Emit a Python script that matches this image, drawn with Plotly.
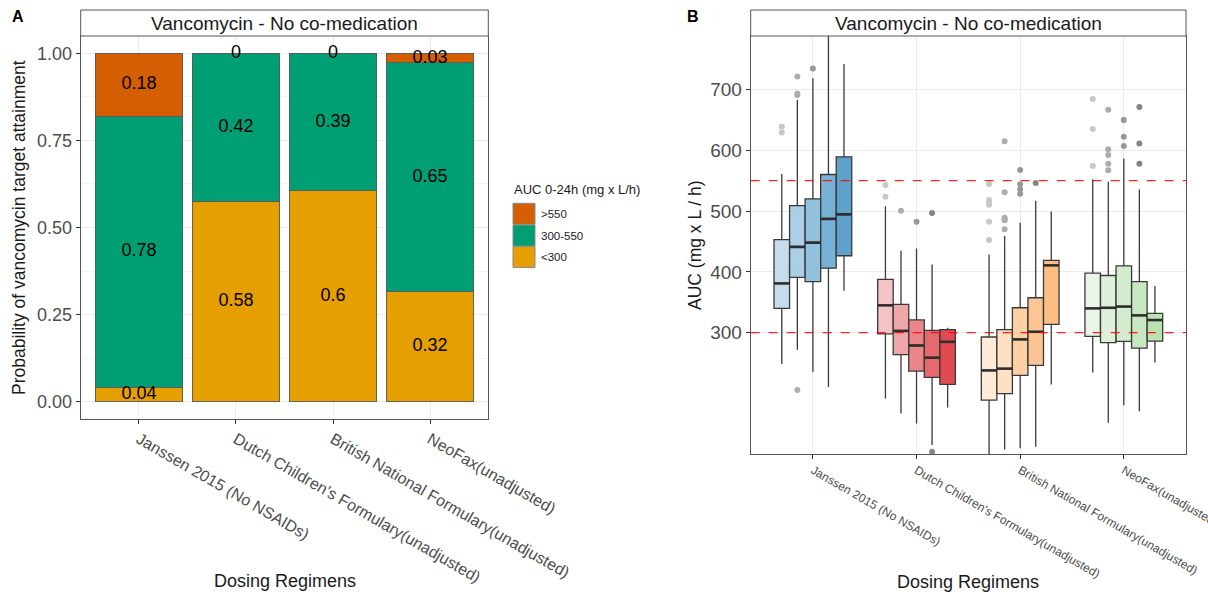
import plotly.graph_objects as go

# ---------------- data ----------------
regimens = ["Janssen 2015 (No NSAIDs)", "Dutch Children's Formulary(unadjusted)",
            "British National Formulary(unadjusted)", "NeoFax(unadjusted)"]

# Panel A: probability of target attainment (stacked)
auc_classes = ["<300", "300-550", ">550"]
pta_low = [0.04, 0.575, 0.605, 0.3175]
pta_mid = [0.78, 0.425, 0.395, 0.655]
pta_high = [0.18, 0.0, 0.0, 0.0275]
lab_low = ["0.04", "0.58", "0.6", "0.32"]
lab_mid = ["0.78", "0.42", "0.39", "0.65"]
lab_high = ["0.18", "0", "0", "0.03"]

# Panel B: AUC box statistics (5 dose levels per regimen)
q1 = [[340, 391, 384, 406, 426.5],
      [298, 264, 237, 226.6, 215],
      [189.3, 200, 230, 246.3, 313.7],
      [294, 283.6, 285.8, 274.8, 286.3]]
med = [[381, 441, 448, 487, 494.5],
       [345, 303, 279, 259, 285],
       [238, 241, 289, 301.6, 410.7],
       [340, 341, 343, 328.5, 320.8]]
q3 = [[453, 509, 520, 560, 589],
      [387.6, 346.6, 321, 304, 305],
      [293, 305, 341, 357.5, 419],
      [398, 394, 410, 383.8, 331.8]]
lofence = [[248.5, 272, 236, 211, 369],
           [192, 167.4, 151, 115.4, 177],
           [90, 108, 110, 112.7, 215],
           [234.8, 152, 181, 171, 251]]
hifence = [[561, 683, 718, 800, 741.5],
           [508, 434.8, 438.6, 412, 308],
           [428.7, 459, 480.8, 517, 499.4],
           [552, 548, 586.5, 535.5, 376.7]]
outliers = [[[638.5, 629], [721, 693, 690.5, 205.8], [734], [], []],
            [[542.7, 523.5], [500.5], [482.4], [496.7, 104.4], []],
            [[544.4, 518, 514.3, 510.4, 482.4, 452.3], [614.5, 530.7, 489, 486, 484.7, 470],
             [567.4, 544, 535.7, 528.4], [546], []],
            [[684, 634.7, 574], [666.5, 601.4, 592, 577.7, 566.8], [649.5, 622, 606.8],
             [671, 611, 577.7], []]]
thresholds = [300, 550]
auc_ticks = [300, 400, 500, 600, 700]

# ---------------- styles ----------------
W, H = 1208, 597
def px(x): return x / W
def py(y): return 1 - y / H

class_colors = {"<300": "#E69F00", "300-550": "#009E73", ">550": "#D55E00"}
box_colors = [['#c6dcec', '#abcfe6', '#92c2de', '#78b1d6', '#5ea2cb'],
              ['#f3c3c5', '#efa6a9', '#eb878a', '#e66a6e', '#e04c51'],
              ['#feead7', '#fee0c3', '#fdd1a4', '#fdc594', '#fdbe85'],
              ['#e9f5e7', '#def0da', '#d3ecce', '#c8e8c1', '#bae2b3']]
out_colors = ['#c8c8c8', '#adadad', '#989898', '#858585', '#747474']
ALPHA = 0.85

def rgba_under(hexc, a):
    r, g, b = (int(hexc[i:i + 2], 16) for i in (1, 3, 5))
    f = lambda c: max(0, min(255, round((c - (1 - a) * 255) / a)))
    return f"rgba({f(r)},{f(g)},{f(b)},{a})"

FONT = "Liberation Sans, Arial, sans-serif"
TICKC = "#4d4d4d"
GRID = "#ebebeb"
BORDER = "#555555"

fig = go.Figure()

# ---- Panel A bars ----
series = [(pta_low, "<300"), (pta_mid, "300-550"), (pta_high, ">550")]
for vals, name in series:
    fig.add_trace(go.Bar(x=regimens, y=vals, name=name, width=0.9,
                         marker=dict(color=class_colors[name], line=dict(color="#5a5a5a", width=0.9)),
                         xaxis="x", yaxis="y", showlegend=False, hoverinfo="skip"))

# labels at middle of each stacked segment
base = [0.0] * len(regimens)
for (vals, name), labs in zip(series, [lab_low, lab_mid, lab_high]):
    mids = [b + v / 2 for b, v in zip(base, vals)]
    fig.add_trace(go.Scatter(x=regimens, y=mids, text=labs, mode="text",
                             textfont=dict(family=FONT, size=18, color="black"),
                             xaxis="x", yaxis="y", showlegend=False, cliponaxis=False, hoverinfo="skip"))
    base = [b + v for b, v in zip(base, vals)]

# ---- Panel B boxes ----
BW = 0.15
for i in range(len(regimens)):
    for j in range(5):
        xpos = i + 1 + (j - 2) * BW
        fig.add_trace(go.Box(x=[xpos], q1=[q1[i][j]], median=[med[i][j]], q3=[q3[i][j]],
                             lowerfence=[lofence[i][j]], upperfence=[hifence[i][j]],
                             width=BW, whiskerwidth=0,
                             fillcolor=rgba_under(box_colors[i][j], ALPHA),
                             line=dict(color="#3a3a3a", width=1.3),
                             xaxis="x2", yaxis="y2", showlegend=False, hoverinfo="skip"))
        # thicker median bar (ggplot fatten)
        fig.add_trace(go.Scatter(x=[xpos - BW / 2, xpos + BW / 2], y=[med[i][j], med[i][j]],
                                 mode="lines", line=dict(color="#2e2e2e", width=2.6),
                                 xaxis="x2", yaxis="y2", showlegend=False, hoverinfo="skip"))
        if outliers[i][j]:
            fig.add_trace(go.Scatter(x=[xpos] * len(outliers[i][j]), y=outliers[i][j], mode="markers",
                                     marker=dict(color=out_colors[j], size=6),
                                     xaxis="x2", yaxis="y2", showlegend=False, hoverinfo="skip"))

axis_common = dict(showline=True, mirror=True, linecolor=BORDER, linewidth=1,
                   ticks="outside", ticklen=4, tickcolor="#333333", tickwidth=1,
                   gridcolor=GRID, gridwidth=1, zeroline=False, showgrid=True, automargin=False,
                   ticklabeloverflow="allow")

fig.update_layout(
    width=W, height=H, margin=dict(l=0, r=0, t=0, b=0, autoexpand=False),
    paper_bgcolor="white", plot_bgcolor="white",
    barmode="stack", boxmode="overlay", showlegend=False,
    font=dict(family=FONT, color=TICKC),
    xaxis=dict(domain=[px(80.7), px(488.3)], anchor="y", type="category", range=[-0.6, 3.6],
               tickangle=30, tickfont=dict(size=16, color=TICKC), **axis_common),
    yaxis=dict(domain=[py(419), py(36)], anchor="x", range=[-0.05, 1.05],
               tickvals=[0, 0.25, 0.5, 0.75, 1.0], tickformat=".2f",
               tickfont=dict(size=18, color=TICKC),
               minor=dict(tickvals=[0.125, 0.375, 0.625, 0.875], showgrid=True,
                          gridcolor="#f4f4f4", gridwidth=0.6, ticks=""),
               **axis_common),
    xaxis2=dict(domain=[px(750.7), px(1186)], anchor="y2", range=[0.4, 4.6],
                tickvals=[1, 2, 3, 4], ticktext=regimens, tickangle=30,
                tickfont=dict(size=12, color=TICKC), **axis_common),
    yaxis2=dict(domain=[py(454), py(36)], anchor="x2", range=[100.7, 787.6],
                tickvals=auc_ticks, tickfont=dict(size=19, color=TICKC), **axis_common),
)

shapes = []
annotations = []
def ann(text, x, y, size, color="#1a1a1a", angle=0, xanchor="center"):
    return dict(text=text, x=px(x), y=py(y), xref="paper", yref="paper", showarrow=False,
                xanchor=xanchor, yanchor="middle", textangle=angle,
                font=dict(family=FONT, size=size, color=color))

# strips
for x0, x1 in [(80.7, 488.3), (750.7, 1186)]:
    shapes.append(dict(type="rect", xref="paper", yref="paper", x0=px(x0), x1=px(x1),
                       y0=py(36), y1=py(10), fillcolor="white", line=dict(color=BORDER, width=1)))
    annotations.append(ann("Vancomycin - No co-medication", (x0 + x1) / 2, 23, 19))
# threshold lines
for t in thresholds:
    shapes.append(dict(type="line", xref="x2 domain", yref="y2", x0=0, x1=1, y0=t, y1=t,
                       line=dict(color="rgba(255,0,0,0.85)", width=1.3, dash="dash"), layer="above"))
# legend
legend_items = [">550", "300-550", "<300"]
key_tops = [203.3, 225, 246.5]
for name, top in zip(legend_items, key_tops):
    shapes.append(dict(type="rect", xref="paper", yref="paper", x0=px(513), x1=px(535),
                       y0=py(top + 21), y1=py(top), fillcolor=class_colors[name],
                       line=dict(color="#8a8a8a", width=1)))
    annotations.append(ann(name, 539, top + 10.5, 11.5, xanchor="left"))
annotations.append(ann("AUC 0-24h (mg x L/h)", 512, 190, 13, xanchor="left"))
# axis titles and panel tags
annotations += [
    ann("Probability of vancomycin target attainment", 19, 228, 17.5, angle=-90),
    ann("Dosing Regimens", 284.5, 581, 18),
    ann("AUC (mg x L / h)", 695, 245, 17.5, angle=-90),
    ann("Dosing Regimens", 968, 582, 18),
    ann("<b>A</b>", 17.5, 16.5, 16, color="black"),
    ann("<b>B</b>", 692.5, 16.5, 16, color="black"),
]
fig.update_layout(shapes=shapes, annotations=annotations)

fig.write_html("out.html")
